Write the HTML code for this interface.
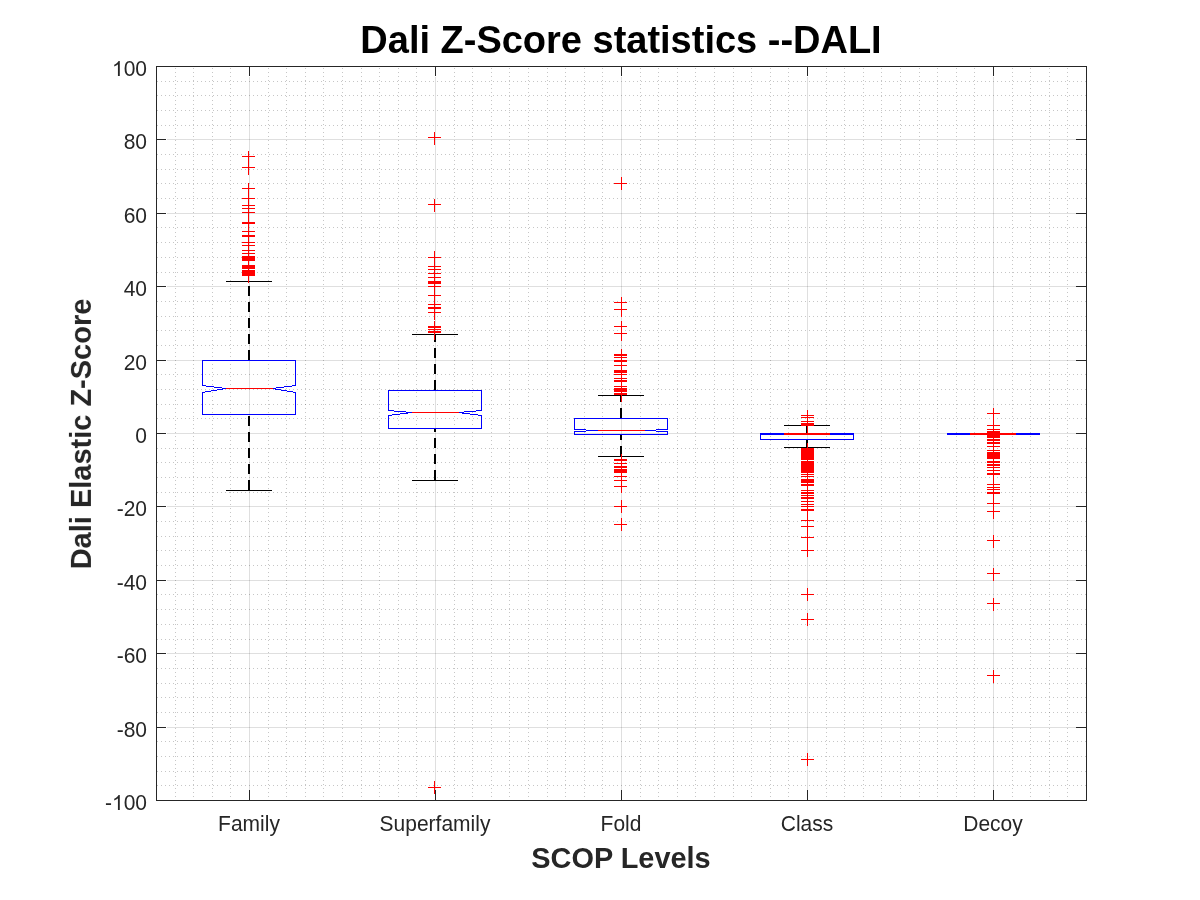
<!DOCTYPE html>
<html><head><meta charset="utf-8"><title>Dali Z-Score statistics</title>
<style>
html,body{margin:0;padding:0;background:#fff;width:1200px;height:900px;overflow:hidden}
svg{display:block}
text{font-family:"Liberation Sans",sans-serif}
.t{will-change:transform}
</style></head><body>
<svg width="1200" height="900" viewBox="0 0 1200 900">
<rect width="1200" height="900" fill="#fff"/>
<g shape-rendering="crispEdges">
<path d="M249.5 77V790M435.5 77V790M621.5 77V790M807.5 77V790M993.5 77V790" stroke="#262626" stroke-opacity="0.15" stroke-width="1" fill="none"/>
<path d="M167 727.5H1076M167 653.5H1076M167 580.5H1076M167 506.5H1076M167 433.5H1076M167 360.5H1076M167 286.5H1076M167 213.5H1076M167 139.5H1076" stroke="#262626" stroke-opacity="0.15" stroke-width="1" fill="none"/>
<path d="M175.5 68V800M193.5 68V800M212.5 68V800M230.5 68V800M268.5 68V800M286.5 68V800M305.5 68V800M323.5 68V800M342.5 68V800M361.5 68V800M379.5 68V800M398.5 68V800M416.5 68V800M454.5 68V800M472.5 68V800M491.5 68V800M509.5 68V800M528.5 68V800M547.5 68V800M565.5 68V800M584.5 68V800M602.5 68V800M640.5 68V800M658.5 68V800M677.5 68V800M695.5 68V800M714.5 68V800M733.5 68V800M751.5 68V800M770.5 68V800M788.5 68V800M826.5 68V800M844.5 68V800M863.5 68V800M881.5 68V800M900.5 68V800M919.5 68V800M937.5 68V800M956.5 68V800M974.5 68V800M1012.5 68V800M1030.5 68V800M1049.5 68V800M1067.5 68V800" stroke="#1a1a1a" stroke-opacity="0.25" stroke-width="1" stroke-dasharray="1 3" fill="none"/>
<path d="M157 81.5H1086M157 95.5H1086M157 110.5H1086M157 125.5H1086M157 154.5H1086M157 169.5H1086M157 183.5H1086M157 198.5H1086M157 227.5H1086M157 242.5H1086M157 257.5H1086M157 272.5H1086M157 301.5H1086M157 316.5H1086M157 330.5H1086M157 345.5H1086M157 374.5H1086M157 389.5H1086M157 404.5H1086M157 418.5H1086M157 448.5H1086M157 462.5H1086M157 477.5H1086M157 492.5H1086M157 521.5H1086M157 536.5H1086M157 550.5H1086M157 565.5H1086M157 594.5H1086M157 609.5H1086M157 624.5H1086M157 639.5H1086M157 668.5H1086M157 683.5H1086M157 697.5H1086M157 712.5H1086M157 741.5H1086M157 756.5H1086M157 771.5H1086M157 785.5H1086" stroke="#1a1a1a" stroke-opacity="0.25" stroke-width="1" stroke-dasharray="1 3" fill="none"/>
<path d="M249.0 360V281.5" stroke="#000000" stroke-width="2" stroke-dasharray="10 6" fill="none"/>
<path d="M249.0 490V414.5" stroke="#000000" stroke-width="2" stroke-dasharray="10 6" fill="none"/>
<path d="M226.0 281.5H272.0M226.0 490.5H272.0" stroke="#000000" stroke-width="1" fill="none"/>
<path d="M202.5 360.5H295.5V385.5L272.5 388.5L295.5 392.5V414.5H202.5V392.5L225.5 388.5L202.5 385.5Z" stroke="#0000ff" stroke-width="1" fill="none"/>
<path d="M225.5 388.5H272.5" stroke="#ff0000" stroke-width="1" fill="none"/>
<path d="M242 156.5H255M248.5 151V164M242 167.5H255M248.5 162V175M242 188.5H255M248.5 183V196M242 198.5H255M248.5 193V206M242 205.5H255M248.5 200V213M242 208.5H255M248.5 203V216M242 212.5H255M248.5 207V220M242 222.5H255M248.5 217V230M242 223.5H255M248.5 218V231M242 231.5H255M248.5 226V239M242 235.5H255M248.5 230V243M242 236.5H255M248.5 231V244M242 242.5H255M248.5 237V250M242 245.5H255M248.5 240V253M242 250.5H255M248.5 245V258M242 253.5H255M248.5 248V261M242 256.5H255M248.5 251V264M242 257.5H255M248.5 252V265M242 258.5H255M248.5 253V266M242 259.5H255M248.5 254V267M242 260.5H255M248.5 255V268M242 265.5H255M248.5 260V273M242 266.5H255M248.5 261V274M242 267.5H255M248.5 262V275M242 268.5H255M248.5 263V276M242 270.5H255M248.5 265V278M242 271.5H255M248.5 266V279M242 272.5H255M248.5 267V280M242 273.5H255M248.5 268V281M242 274.5H255M248.5 269V282M242 275.5H255M248.5 270V283" stroke="#ff0000" stroke-width="1" fill="none"/>
<path d="M435.0 390V334.5" stroke="#000000" stroke-width="2" stroke-dasharray="10 6" fill="none"/>
<path d="M435.0 480V428.5" stroke="#000000" stroke-width="2" stroke-dasharray="10 6" fill="none"/>
<path d="M412.0 334.5H458.0M412.0 480.5H458.0" stroke="#000000" stroke-width="1" fill="none"/>
<path d="M388.5 390.5H481.5V410.5L458.5 412.5L481.5 415.5V428.5H388.5V415.5L411.5 412.5L388.5 410.5Z" stroke="#0000ff" stroke-width="1" fill="none"/>
<path d="M411.5 412.5H458.5" stroke="#ff0000" stroke-width="1" fill="none"/>
<path d="M428 137.5H441M434.5 132V145M428 204.5H441M434.5 199V212M428 257.5H441M434.5 251V264M428 266.5H441M434.5 261V274M428 269.5H441M434.5 264V277M428 273.5H441M434.5 268V281M428 277.5H441M434.5 272V285M428 281.5H441M434.5 276V289M428 282.5H441M434.5 277V290M428 283.5H441M434.5 278V291M428 286.5H441M434.5 281V294M428 295.5H441M434.5 290V303M428 304.5H441M434.5 299V312M428 307.5H441M434.5 302V315M428 308.5H441M434.5 303V316M428 312.5H441M434.5 307V320M428 326.5H441M434.5 321V334M428 327.5H441M434.5 322V335M428 329.5H441M434.5 324V337M428 331.5H441M434.5 326V339M428 332.5H441M434.5 327V340M428 787.5H441M434.5 781V794" stroke="#ff0000" stroke-width="1" fill="none"/>
<path d="M621.0 418V395.5" stroke="#000000" stroke-width="2" stroke-dasharray="10 6" fill="none"/>
<path d="M621.0 456V434.5" stroke="#000000" stroke-width="2" stroke-dasharray="10 6" fill="none"/>
<path d="M598.0 395.5H644.0M598.0 456.5H644.0" stroke="#000000" stroke-width="1" fill="none"/>
<path d="M574.5 418.5H667.5V429.5L644.5 430.5L667.5 431.5V434.5H574.5V431.5L597.5 430.5L574.5 429.5Z" stroke="#0000ff" stroke-width="1" fill="none"/>
<path d="M597.5 430.5H644.5" stroke="#ff0000" stroke-width="1" fill="none"/>
<path d="M614 183.5H627M621.5 177V190M614 302.5H627M621.5 297V310M614 309.5H627M621.5 304V317M614 326.5H627M621.5 321V334M614 333.5H627M621.5 328V341M614 354.5H627M621.5 349V362M614 355.5H627M621.5 350V363M614 357.5H627M621.5 352V365M614 360.5H627M621.5 355V368M614 361.5H627M621.5 356V369M614 365.5H627M621.5 360V373M614 370.5H627M621.5 365V378M614 371.5H627M621.5 366V379M614 372.5H627M621.5 367V380M614 374.5H627M621.5 369V382M614 378.5H627M621.5 373V386M614 380.5H627M621.5 375V388M614 381.5H627M621.5 376V389M614 386.5H627M621.5 381V394M614 388.5H627M621.5 383V396M614 389.5H627M621.5 384V397M614 390.5H627M621.5 385V398M614 391.5H627M621.5 386V399M614 393.5H627M621.5 388V401M614 394.5H627M621.5 389V402M614 459.5H627M621.5 454V467M614 460.5H627M621.5 455V468M614 463.5H627M621.5 458V471M614 466.5H627M621.5 461V474M614 467.5H627M621.5 462V475M614 469.5H627M621.5 464V477M614 470.5H627M621.5 465V478M614 471.5H627M621.5 466V479M614 472.5H627M621.5 467V480M614 476.5H627M621.5 471V484M614 480.5H627M621.5 475V488M614 486.5H627M621.5 480V493M614 506.5H627M621.5 500V513M614 524.5H627M621.5 518V531" stroke="#ff0000" stroke-width="1" fill="none"/>
<path d="M807.0 433V425.5" stroke="#000000" stroke-width="2" stroke-dasharray="10 6" fill="none"/>
<path d="M807.0 447V439.5" stroke="#000000" stroke-width="2" stroke-dasharray="10 6" fill="none"/>
<path d="M784.0 425.5H830.0M784.0 447.5H830.0" stroke="#000000" stroke-width="1" fill="none"/>
<path d="M760.5 433.5V439.5H853.5V433.5" stroke="#0000ff" stroke-width="1" fill="none"/>
<rect x="760.0" y="433" width="94.0" height="2" fill="#0000ff"/>
<rect x="784.0" y="433" width="46" height="2" fill="#ff0000"/>
<path d="M801 415.5H814M807.5 410V423M801 417.5H814M807.5 412V425M801 421.5H814M807.5 416V429M801 423.5H814M807.5 418V431M801 424.5H814M807.5 419V432M801 425.5H814M807.5 420V433M801 448.5H814M807.5 443V456M801 449.5H814M807.5 444V457M801 450.5H814M807.5 445V458M801 451.5H814M807.5 446V459M801 452.5H814M807.5 447V460M801 453.5H814M807.5 448V461M801 454.5H814M807.5 449V462M801 455.5H814M807.5 450V463M801 456.5H814M807.5 451V464M801 457.5H814M807.5 452V465M801 458.5H814M807.5 453V466M801 459.5H814M807.5 454V467M801 461.5H814M807.5 456V469M801 462.5H814M807.5 457V470M801 463.5H814M807.5 458V471M801 464.5H814M807.5 459V472M801 465.5H814M807.5 460V473M801 466.5H814M807.5 461V474M801 467.5H814M807.5 462V475M801 468.5H814M807.5 463V476M801 469.5H814M807.5 464V477M801 470.5H814M807.5 465V478M801 471.5H814M807.5 466V479M801 472.5H814M807.5 467V480M801 474.5H814M807.5 469V482M801 476.5H814M807.5 471V484M801 479.5H814M807.5 474V487M801 480.5H814M807.5 475V488M801 481.5H814M807.5 476V489M801 482.5H814M807.5 477V490M801 484.5H814M807.5 479V492M801 485.5H814M807.5 480V493M801 490.5H814M807.5 485V498M801 492.5H814M807.5 487V500M801 493.5H814M807.5 488V501M801 495.5H814M807.5 490V503M801 497.5H814M807.5 492V505M801 498.5H814M807.5 493V506M801 501.5H814M807.5 496V509M801 504.5H814M807.5 499V512M801 506.5H814M807.5 501V514M801 509.5H814M807.5 504V517M801 510.5H814M807.5 505V518M801 520.5H814M807.5 515V528M801 526.5H814M807.5 521V534M801 537.5H814M807.5 532V545M801 550.5H814M807.5 544V557M801 594.5H814M807.5 588V601M801 619.5H814M807.5 613V626M801 759.5H814M807.5 753V766" stroke="#ff0000" stroke-width="1" fill="none"/>
<path d="M970.0 433.5H1016.0M970.0 434.5H1016.0" stroke="#000000" stroke-width="1" fill="none"/>
<rect x="947" y="433" width="93" height="2" fill="#0000ff"/>
<rect x="970" y="433" width="46" height="2" fill="#ff0000"/>
<path d="M987 413.5H1000M993.5 408V421M987 425.5H1000M993.5 420V433M987 429.5H1000M993.5 424V437M987 431.5H1000M993.5 426V439M987 432.5H1000M993.5 427V440M987 433.5H1000M993.5 428V441M987 434.5H1000M993.5 429V442M987 435.5H1000M993.5 430V443M987 436.5H1000M993.5 431V444M987 437.5H1000M993.5 432V445M987 439.5H1000M993.5 434V447M987 440.5H1000M993.5 435V448M987 442.5H1000M993.5 437V450M987 443.5H1000M993.5 438V451M987 446.5H1000M993.5 441V454M987 450.5H1000M993.5 445V458M987 452.5H1000M993.5 447V460M987 453.5H1000M993.5 448V461M987 454.5H1000M993.5 449V462M987 455.5H1000M993.5 450V463M987 456.5H1000M993.5 451V464M987 457.5H1000M993.5 452V465M987 458.5H1000M993.5 453V466M987 461.5H1000M993.5 456V469M987 462.5H1000M993.5 457V470M987 464.5H1000M993.5 459V472M987 465.5H1000M993.5 460V473M987 467.5H1000M993.5 462V475M987 470.5H1000M993.5 465V478M987 473.5H1000M993.5 468V481M987 474.5H1000M993.5 469V482M987 484.5H1000M993.5 479V492M987 487.5H1000M993.5 482V495M987 489.5H1000M993.5 484V497M987 492.5H1000M993.5 487V500M987 493.5H1000M993.5 488V501M987 503.5H1000M993.5 498V511M987 511.5H1000M993.5 506V519M987 540.5H1000M993.5 535V548M987 573.5H1000M993.5 568V581M987 603.5H1000M993.5 598V611M987 675.5H1000M993.5 670V683" stroke="#ff0000" stroke-width="1" fill="none"/>
<path d="M249.5 800V790M249.5 66V76M435.5 800V790M435.5 66V76M621.5 800V790M621.5 66V76M807.5 800V790M807.5 66V76M993.5 800V790M993.5 66V76M156 800.5H166M1086 800.5H1076M156 727.5H166M1086 727.5H1076M156 653.5H166M1086 653.5H1076M156 580.5H166M1086 580.5H1076M156 506.5H166M1086 506.5H1076M156 433.5H166M1086 433.5H1076M156 360.5H166M1086 360.5H1076M156 286.5H166M1086 286.5H1076M156 213.5H166M1086 213.5H1076M156 139.5H166M1086 139.5H1076M156 66.5H166M1086 66.5H1076" stroke="#262626" stroke-width="1" fill="none"/>
<rect x="156.5" y="66.5" width="930" height="734" stroke="#262626" stroke-width="1" fill="none"/>
</g>
<g class="t">
<text transform="translate(147 810) scale(1 1.04)" text-anchor="end" font-size="21" fill="#262626">00</text>
<path transform="translate(111.962 810) scale(0.010254 -0.010254)" d="M763 0H583V1147Q518 1085 412.5 1023T222 930V1104Q373 1175 486 1276T646 1472H763V0Z" fill="#262626"/>
<text transform="translate(111.962 810) scale(1 1.04)" text-anchor="end" font-size="21" fill="#262626">-</text>
<text transform="translate(147 737) scale(1 1.04)" text-anchor="end" font-size="21" fill="#262626">-80</text>
<text transform="translate(147 663) scale(1 1.04)" text-anchor="end" font-size="21" fill="#262626">-60</text>
<text transform="translate(147 590) scale(1 1.04)" text-anchor="end" font-size="21" fill="#262626">-40</text>
<text transform="translate(147 516) scale(1 1.04)" text-anchor="end" font-size="21" fill="#262626">-20</text>
<text transform="translate(147 443) scale(1 1.04)" text-anchor="end" font-size="21" fill="#262626">0</text>
<text transform="translate(147 370) scale(1 1.04)" text-anchor="end" font-size="21" fill="#262626">20</text>
<text transform="translate(147 296) scale(1 1.04)" text-anchor="end" font-size="21" fill="#262626">40</text>
<text transform="translate(147 223) scale(1 1.04)" text-anchor="end" font-size="21" fill="#262626">60</text>
<text transform="translate(147 149) scale(1 1.04)" text-anchor="end" font-size="21" fill="#262626">80</text>
<text transform="translate(147 76) scale(1 1.04)" text-anchor="end" font-size="21" fill="#262626">00</text>
<path transform="translate(111.962 76) scale(0.010254 -0.010254)" d="M763 0H583V1147Q518 1085 412.5 1023T222 930V1104Q373 1175 486 1276T646 1472H763V0Z" fill="#262626"/>
<text transform="translate(249.0 831) scale(1 1.04)" text-anchor="middle" font-size="21" fill="#262626">Family</text>
<text transform="translate(435.0 831) scale(1 1.04)" text-anchor="middle" font-size="21" fill="#262626">Superfamily</text>
<text transform="translate(621.0 831) scale(1 1.04)" text-anchor="middle" font-size="21" fill="#262626">Fold</text>
<text transform="translate(807.0 831) scale(1 1.04)" text-anchor="middle" font-size="21" fill="#262626">Class</text>
<text transform="translate(993.0 831) scale(1 1.04)" text-anchor="middle" font-size="21" fill="#262626">Decoy</text>
<text transform="translate(621 868) scale(1 1.04)" text-anchor="middle" font-size="28.9" font-weight="bold" fill="#262626">SCOP Levels</text>
<text transform="translate(91 434) rotate(-90) scale(1 1.04)" text-anchor="middle" font-size="29" font-weight="bold" fill="#262626">Dali Elastic Z-Score</text>
<text transform="translate(621 53) scale(1 1.04)" text-anchor="middle" font-size="38" font-weight="bold" fill="#000">Dali Z-Score statistics --DALI</text>
</g>
</svg>
</body></html>
